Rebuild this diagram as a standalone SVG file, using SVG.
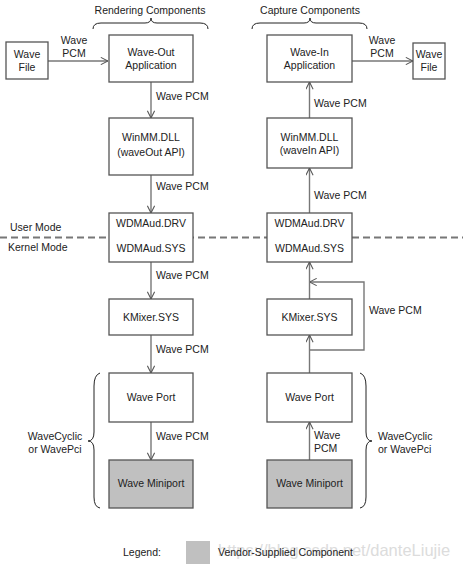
<svg xmlns="http://www.w3.org/2000/svg" width="463" height="565" viewBox="0 0 463 565">
<defs>
<style>
text{font-family:"Liberation Sans",Arial,sans-serif;font-size:10.5px;fill:#222}
.c{text-anchor:middle}
.box{fill:#fff;stroke:#555;stroke-width:1.3}
.gray{fill:#c0c0c0;stroke:#555;stroke-width:1.3}
.ln{fill:none;stroke:#777;stroke-width:1.4}
.br{fill:none;stroke:#222;stroke-width:1}
</style>
<marker id="ah" viewBox="0 0 10 10" refX="10" refY="5" markerWidth="8" markerHeight="8" markerUnits="userSpaceOnUse" orient="auto">
<path d="M1,0.5 L10,5 L1,9.5" fill="none" stroke="#555" stroke-width="1.3"/>
</marker>
</defs>
<rect width="463" height="565" fill="#fff"/>

<text class="c" x="150" y="14">Rendering Components</text>
<path class="br" d="M93,29 Q93,23 101,23 L145,23 Q151,23 151,18 Q151,23 157,23 L200,23 Q208,23 208,29"/>
<text class="c" x="310" y="14">Capture Components</text>
<path class="br" d="M252,29 Q252,23 260,23 L304,23 Q310,23 310,18 Q310,23 316,23 L359,23 Q367,23 367,29"/>

<g id="conn">
<line class="ln" x1="48" y1="61" x2="108" y2="61" marker-end="url(#ah)"/>
<line class="ln" x1="151" y1="82" x2="151" y2="118" marker-end="url(#ah)"/>
<line class="ln" x1="151" y1="175" x2="151" y2="213" marker-end="url(#ah)"/>
<line class="ln" x1="151" y1="262" x2="151" y2="299" marker-end="url(#ah)"/>
<line class="ln" x1="151" y1="335" x2="151" y2="373" marker-end="url(#ah)"/>
<line class="ln" x1="151" y1="422" x2="151" y2="460" marker-end="url(#ah)"/>
<line class="ln" x1="352" y1="61" x2="413" y2="61" marker-end="url(#ah)"/>
<line class="ln" x1="309.5" y1="118" x2="309.5" y2="82" marker-end="url(#ah)"/>
<line class="ln" x1="309.5" y1="213" x2="309.5" y2="168" marker-end="url(#ah)"/>
<line class="ln" x1="309.5" y1="299" x2="309.5" y2="262" marker-end="url(#ah)"/>
<line class="ln" x1="309.5" y1="373" x2="309.5" y2="335" marker-end="url(#ah)"/>
<path class="ln" d="M309.5,350 L364,350 L364,282 L309.5,282" marker-end="url(#ah)"/>
<line class="ln" x1="309.5" y1="460" x2="309.5" y2="422" marker-end="url(#ah)"/>
</g>

<text class="c" x="74" y="44">Wave</text>
<text class="c" x="74" y="57">PCM</text>
<text x="156" y="100">Wave PCM</text>
<text x="156" y="190">Wave PCM</text>
<text x="156" y="279">Wave PCM</text>
<text x="156" y="353">Wave PCM</text>
<text x="156" y="440">Wave PCM</text>
<text class="c" x="382" y="44">Wave</text>
<text class="c" x="382" y="57">PCM</text>
<text x="314" y="107">Wave PCM</text>
<text x="314" y="199">Wave PCM</text>
<text x="369" y="314">Wave PCM</text>
<text x="314" y="439">Wave</text>
<text x="314" y="452">PCM</text>

<line x1="0" y1="237.5" x2="463" y2="237.5" stroke="#777" stroke-width="1.8" stroke-dasharray="7,4"/>
<text x="10" y="231">User Mode</text>
<text x="8" y="251">Kernel Mode</text>

<g id="wavefile-l"><rect class="box" x="6" y="42" width="42" height="37"/><text class="c" x="27" y="58">Wave</text><text class="c" x="27" y="71">File</text></g>
<g id="waveout"><rect class="box" x="109" y="35" width="84" height="47"/><text class="c" x="151" y="56">Wave-Out</text><text class="c" x="151" y="69">Application</text></g>
<g id="winmm-l"><rect class="box" x="109" y="118" width="84" height="57"/><text class="c" x="151" y="141">WinMM.DLL</text><text class="c" x="151" y="156">(waveOut API)</text></g>
<g id="wdmaud-l"><rect class="box" x="109" y="213" width="84" height="49"/><text class="c" x="151" y="227">WDMAud.DRV</text><text class="c" x="151" y="252">WDMAud.SYS</text></g>
<g id="kmixer-l"><rect class="box" x="109" y="299" width="84" height="36"/><text class="c" x="151" y="321">KMixer.SYS</text></g>
<g id="waveport-l"><rect class="box" x="109" y="373" width="84" height="49"/><text class="c" x="151" y="401">Wave Port</text></g>
<g id="miniport-l"><rect class="gray" x="109" y="460" width="84" height="48"/><text class="c" x="151" y="487">Wave Miniport</text></g>

<g id="wavein"><rect class="box" x="267" y="35" width="85" height="47"/><text class="c" x="309.5" y="56">Wave-In</text><text class="c" x="309.5" y="69">Application</text></g>
<g id="wavefile-r"><rect class="box" x="413" y="43" width="32" height="36"/><text class="c" x="429" y="58">Wave</text><text class="c" x="429" y="71">File</text></g>
<g id="winmm-r"><rect class="box" x="267" y="118" width="85" height="50"/><text class="c" x="309.5" y="141">WinMM.DLL</text><text class="c" x="309.5" y="154">(waveIn API)</text></g>
<g id="wdmaud-r"><rect class="box" x="267" y="213" width="85" height="49"/><text class="c" x="309.5" y="227">WDMAud.DRV</text><text class="c" x="309.5" y="252">WDMAud.SYS</text></g>
<g id="kmixer-r"><rect class="box" x="267" y="299" width="85" height="36"/><text class="c" x="309.5" y="321">KMixer.SYS</text></g>
<g id="waveport-r"><rect class="box" x="267" y="373" width="85" height="49"/><text class="c" x="309.5" y="401">Wave Port</text></g>
<g id="miniport-r"><rect class="gray" x="267" y="460" width="85" height="48"/><text class="c" x="309.5" y="487">Wave Miniport</text></g>

<path class="br" d="M100,373 Q94,375 94,386 L94,432 Q94,441 88,441 Q94,441 94,450 L94,497 Q94,507 100,508"/>
<text class="c" x="55" y="440">WaveCyclic</text>
<text class="c" x="55" y="453">or WavePci</text>
<path class="br" d="M360,373 Q366,375 366,386 L366,432 Q366,441 372,441 Q366,441 366,450 L366,497 Q366,507 360,508"/>
<text x="378" y="440">WaveCyclic</text>
<text x="378" y="453">or WavePci</text>

<g id="legend">
<text x="123" y="556">Legend:</text>
<rect x="186" y="541" width="24" height="23" fill="#c0c0c0"/>
<text x="218" y="556" font-size="16.5" style="font-size:16.5px;fill:#dcdcdc">https://blog.csdn.net/danteLiujie</text>
<text x="218" y="556">Vendor-Supplied Component</text>
</g>
</svg>
